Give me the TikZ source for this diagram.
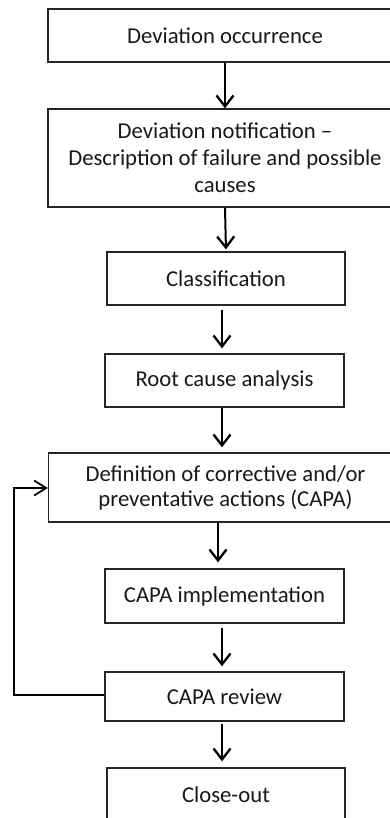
\documentclass[tikz,border=0pt]{standalone}
\usepackage{fontspec}
\setmainfont{Carlito}
\usetikzlibrary{arrows.meta}
\begin{document}
\begin{tikzpicture}[x=1pt,y=-1pt,
  box/.style={draw=black!85,line width=1.3pt,align=center,inner sep=0pt,
    font=\fontsize{22.7}{27}\selectfont,text=black!90},
  arr/.style={line width=2pt,-{Straight Barb[length=11pt,width=17pt,line width=2.3pt]}},
  back/.style={line width=1.3pt,-{Straight Barb[length=12pt,width=15pt,line width=1.8pt]}}]
\useasboundingbox (0,0) rectangle (390,818);
\clip (0,0) rectangle (390,818);
\fill[white] (0,0) rectangle (390,818);
\node[box,minimum width=354pt,minimum height=53pt] (b1) at (225,35.5) {Deviation occurrence};
\node[box,minimum width=354pt,minimum height=98pt] (b2) at (225,158) {Deviation notification –\\Description of failure and possible\\causes};
\node[box,minimum width=238pt,minimum height=53pt] (b3) at (226,278.5) {Classification};
\node[box,minimum width=239pt,minimum height=53pt] (b4) at (224.5,380.5) {Root cause analysis};
\node[box,minimum width=354pt,minimum height=69pt,font=\fontsize{22.7}{25}\selectfont] (b5) at (225.5,487.5) {Definition of corrective and/or\\preventative actions (CAPA)};
\node[box,minimum width=239pt,minimum height=54pt] (b6) at (224.5,596) {CAPA implementation};
\node[box,minimum width=239pt,minimum height=49pt] (b7) at (224.5,696.5) {CAPA review};
\node[box,minimum width=238pt,minimum height=53pt] (b8) at (226,794.5) {Close-out};
\draw[arr] (b1.south) -- (b2.north);
\draw[arr,shorten >=2pt] (b2.south) -- (b3.north);
\draw[arr,shorten <=4pt,shorten >=5pt] ([xshift=-4pt]b3.south) -- ([xshift=-4pt]b3.south |- b4.north);
\draw[arr,shorten >=5pt] ([xshift=-2.5pt]b4.south) -- ([xshift=-2.5pt]b4.south |- b5.north);
\draw[arr,shorten >=6pt] ([xshift=-7.5pt]b5.south) -- ([xshift=-7.5pt]b5.south |- b6.north);
\draw[arr,shorten <=4pt,shorten >=5pt] ([xshift=-2.5pt]b6.south) -- ([xshift=-2.5pt]b6.south |- b7.north);
\draw[arr,shorten <=2pt,shorten >=6pt] ([xshift=-2.5pt]b7.south) -- ([xshift=-2.5pt]b7.south |- b8.north);
\coordinate (c1) at (14,695);
\coordinate (c2) at (14,488);
\draw[back] (b7.west |- c1) -- (c1) -- (c2) -- (b5.west |- c2);
\end{tikzpicture}
\end{document}
